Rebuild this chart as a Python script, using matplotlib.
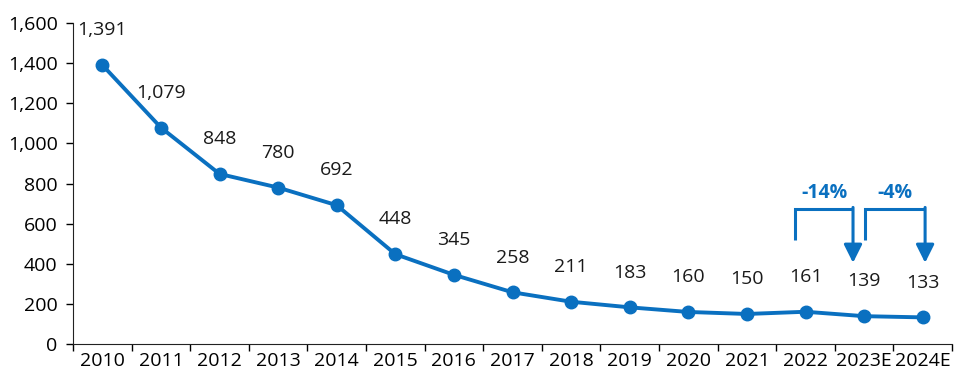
import matplotlib.pyplot as plt
from matplotlib.ticker import FuncFormatter

years = ["2010", "2011", "2012", "2013", "2014", "2015", "2016", "2017",
         "2018", "2019", "2020", "2021", "2022", "2023E", "2024E"]
values = [1391, 1079, 848, 780, 692, 448, 345, 258, 211, 183, 160, 150, 161, 139, 133]
changes = ["-14%", "-4%"]

blue = "#0a70c0"
plt.rcParams['font.family'] = ['Open Sans', 'DejaVu Sans']
fs = 14

fig = plt.figure(figsize=(9.58, 3.84), dpi=100)
ax = fig.add_axes([0.0762, 0.104, 0.9176, 0.836])

x = list(range(len(years)))
ax.plot(x, values, color=blue, lw=2.8, marker="o", markersize=9, zorder=3)

for i, v in zip(x, values):
    ax.annotate(f"{v:,}", (i, v), xytext=(0, 25), textcoords="offset points",
                ha="center", va="center", fontsize=fs, color="#1a1a1a")

# change brackets
brackets = [(11.82, 12.81), (13.02, 14.04)]
y_base, y_top, y_tip = 518, 673, 405
for (x0, x1), lab in zip(brackets, changes):
    ax.plot([x0, x0, x1], [y_base, y_top, y_top], color=blue, lw=2.2, solid_capstyle="butt",
            solid_joinstyle="miter", zorder=4)
    ax.annotate("", xy=(x1, y_tip), xytext=(x1, y_top + 8),
                arrowprops=dict(arrowstyle="-|>,head_length=1.1,head_width=0.55",
                                color=blue, lw=2.2, shrinkA=0, shrinkB=0))
    ax.text((x0 + x1) / 2, 755, lab, ha="center", va="center", fontsize=fs,
            fontweight="bold", color=blue)

ax.set_xlim(-0.5, len(years) - 0.5)
ax.set_ylim(0, 1600)
ax.set_yticks(range(0, 1601, 200))
ax.yaxis.set_major_formatter(FuncFormatter(lambda v, p: f"{int(v):,}"))
ax.set_xticks([i - 0.5 for i in range(len(years) + 1)])
ax.set_xticklabels([])
ax.set_xticks(x, minor=True)
ax.set_xticklabels(years, minor=True)
ax.tick_params(axis="x", which="minor", length=0, pad=6, labelsize=fs)
ax.tick_params(axis="x", which="major", length=5, width=1)
ax.tick_params(axis="y", length=5, width=1, labelsize=fs, pad=6)

for s in ["top", "right"]:
    ax.spines[s].set_visible(False)
ax.spines["left"].set_color("#222222")
ax.spines["bottom"].set_color("#222222")

fig.savefig("out.png", dpi=100)
